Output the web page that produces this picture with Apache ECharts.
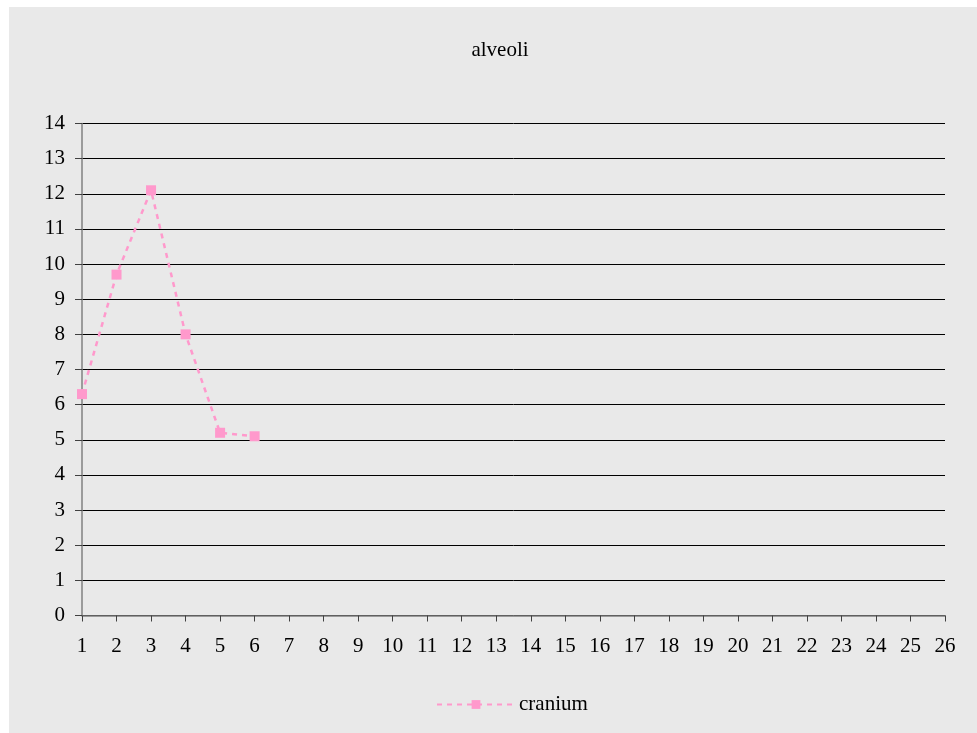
<!DOCTYPE html>
<html><head><meta charset="utf-8">
<script src="https://cdn.jsdelivr.net/npm/echarts@6/dist/echarts.min.js"></script>
<style>html,body{margin:0;padding:0;background:#fff;width:977px;height:733px;overflow:hidden}
#c{position:absolute;left:9px;top:7px;width:968px;height:726px}</style>
</head><body><div id="c"></div>
<script>
var titleText = 'alveoli';
var seriesName = 'cranium';
var categories = [];
for (var i = 1; i <= 26; i++) categories.push(String(i));
var values = [6.3, 9.7, 12.1, 8.0, 5.2, 5.1];
var yMin = 0, yMax = 14, yStep = 1;

var font = 'Liberation Serif, Times New Roman, serif';
var chart = echarts.init(document.getElementById('c'), null, {renderer:'canvas'});
chart.setOption({
  backgroundColor: '#e9e9e9',
  animation: false,
  title: {text: titleText, left: 491, top: 33, textAlign: 'center', padding: 0,
    textStyle: {fontFamily: font, fontSize: 21, fontWeight: 'normal', color: '#000'}},
  legend: {
    data: [seriesName], bottom: 18, left: 427, padding: 0,
    itemWidth: 78, itemHeight: 11, itemGap: 0,
    textStyle: {fontFamily: font, fontSize: 21, color: '#000', padding: [0,0,0,-1]}
  },
  grid: {left: 73, top: 116.5, right: 32, bottom: 117.5, containLabel: false},
  xAxis: {
    type: 'category', data: categories, boundaryGap: false,
    axisLine: {lineStyle: {color: '#808080', width: 1.5}},
    axisTick: {show: true, length: 6, alignWithLabel: true, lineStyle: {color: '#404040', width: 1}},
    axisLabel: {fontFamily: font, fontSize: 21, color: '#000', margin: 20, interval: 0},
    splitLine: {show: false}
  },
  yAxis: {
    type: 'value', min: yMin, max: yMax, interval: yStep,
    axisLine: {show: true, lineStyle: {color: '#808080', width: 1.5}},
    axisTick: {show: true, length: 7, inside: false, lineStyle: {color: '#404040'}},
    axisLabel: {fontFamily: font, fontSize: 21, color: '#000', margin: 17},
    splitLine: {show: true, lineStyle: {color: '#000', width: 1}}
  },
  series: [{
    name: seriesName, type: 'line', data: values,
    symbol: 'rect', symbolSize: 10,
    itemStyle: {color: '#ff99cc'},
    lineStyle: {color: '#ff99cc', width: 2.5, type: [5, 5]},
    z: 5
  }]
});
</script></body></html>
